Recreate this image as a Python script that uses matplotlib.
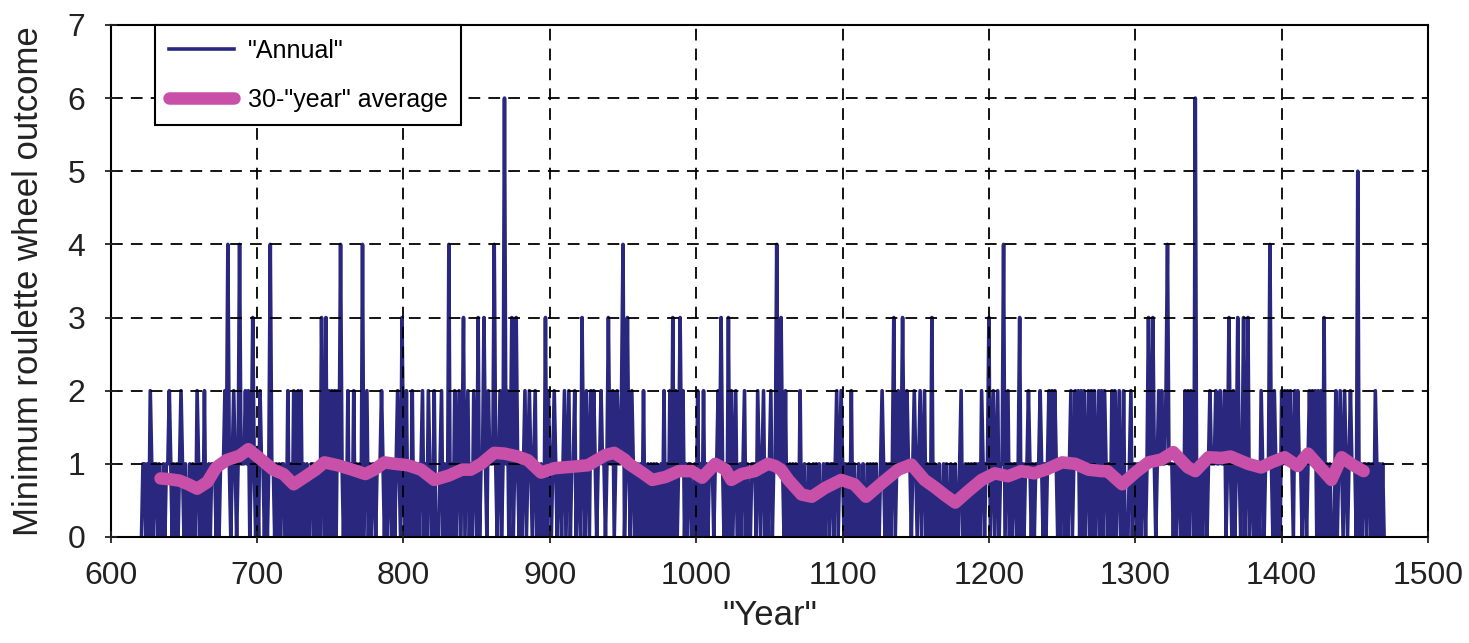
import numpy as np
import matplotlib.pyplot as plt

plt.rcParams['font.family'] = ['Liberation Sans', 'DejaVu Sans']

# annual values, one digit per year, decades separated by spaces; series starts in 621
start_year = 621
annual_600s = "011010210 1101001011 2101010121 0100101002 1010200101 1101011121 4101210141 1121201310"
annual_700s = ("1021101014 1101010110 0201020020 2010100110 1010310302 0202021410 1020102010 1040120101 "
               "1011121010 1101012103")
annual_800s = ("1020102010 1012010210 0200012010 0401020120 1301201021 0301131021 1141012016 1201301310 "
               "1012012101 2010100302")
annual_900s = ("1012101101 2012011201 1031021021 2101121101 3112012112 4013102101 1010200101 0101001020 "
               "1020302013 1201011001")
annual_1000s = ("0201020101 1101121310 1030201200 1012010011 1021012010 1201141131 0200101010 0200100100 "
                "1010100101 1011012012")
annual_1100s = ("1010102010 0100100101 0101001210 1010130121 1311211012 1012012010 0301001001 0100100100 "
                "1200101010 1101021011")
annual_1200s = ("3012012011 4012010110 1301011210 1011121010 1212121010 1101012012 1202020120 2020120202 "
                "1010202012 0020001201")
annual_1300s = ("1011011013 1131012121 1241110101 1010202021 0601010110 1211121121 1201310201 3101301301 "
                "1010102101 1141021010")
annual_1400s = ("2121212102 1211011012 1212020203 0101000201 2102101211 1050101101 1010210101 0")

# 30-"year" average
avg_years = [634, 640, 647, 653, 659, 666, 672, 679, 688, 694, 702, 711, 718, 725, 734, 740, 746, 755,
             765, 774, 780, 787, 794, 803, 812, 821, 831, 840, 846, 853, 862, 869, 878, 885, 894, 903,
             915, 926, 938, 944, 951, 954, 963, 970, 979, 988, 997, 1004, 1013, 1020, 1024, 1031, 1040,
             1049, 1054, 1058, 1063, 1072, 1079, 1088, 1099, 1108, 1116, 1127, 1138, 1147, 1156, 1163,
             1170, 1177, 1186, 1195, 1204, 1213, 1222, 1231, 1240, 1250, 1259, 1268, 1277, 1281, 1291,
             1300, 1309, 1318, 1326, 1336, 1341, 1350, 1359, 1365, 1377, 1386, 1393, 1402, 1411, 1418,
             1426, 1434, 1441, 1449, 1456]
avg_values = [0.80, 0.79, 0.77, 0.72, 0.66, 0.75, 0.95, 1.05, 1.11, 1.20, 1.07, 0.92, 0.86, 0.72, 0.84,
              0.92, 1.02, 0.98, 0.92, 0.86, 0.92, 1.02, 1.00, 0.98, 0.92, 0.78, 0.84, 0.92, 0.92, 1.00,
              1.15, 1.14, 1.10, 1.05, 0.88, 0.94, 0.96, 0.98, 1.12, 1.15, 1.06, 1.00, 0.88, 0.78, 0.82,
              0.90, 0.90, 0.81, 1.00, 0.92, 0.78, 0.86, 0.90, 1.00, 0.97, 0.92, 0.78, 0.58, 0.55, 0.67,
              0.78, 0.72, 0.55, 0.74, 0.92, 0.99, 0.78, 0.68, 0.57, 0.47, 0.63, 0.78, 0.87, 0.83, 0.90,
              0.87, 0.93, 1.02, 1.00, 0.92, 0.90, 0.90, 0.72, 0.88, 1.02, 1.06, 1.16, 0.95, 0.90, 1.09,
              1.08, 1.10, 1.00, 0.95, 1.02, 1.09, 0.97, 1.14, 0.96, 0.78, 1.09, 0.98, 0.90]

digits = "".join([annual_600s, annual_700s, annual_800s, annual_900s, annual_1000s,
                  annual_1100s, annual_1200s, annual_1300s, annual_1400s]).replace(" ", "")
annual = np.array([int(c) for c in digits])
years = np.arange(start_year, start_year + len(annual))

fig = plt.figure(figsize=(14.69, 6.43), dpi=100)
ax = fig.add_axes([0.0754, 0.1649, 0.8967, 0.7963])

ax.plot(years, annual, color='#29287E', lw=2.6, label='"Annual"', zorder=2)
ax.plot(avg_years, avg_values, color='#C850A8', lw=9, solid_capstyle='round',
        solid_joinstyle='round', label='30-"year" average', zorder=4)

ax.set_xlim(600, 1500)
ax.set_ylim(0, 7)
ax.set_xticks(range(600, 1501, 100))
ax.set_yticks(range(0, 8))
ax.set_axisbelow(False)
ax.grid(True, color='black', lw=1.3, linestyle=(0, (6.5, 4.5)))
ax.tick_params(direction='inout', length=9, width=1.3, labelsize=23, colors='#222222')
ax.tick_params(axis='x', pad=13)
ax.tick_params(axis='y', pad=14)
for s in ax.spines.values():
    s.set_linewidth(1.5)

ax.set_ylabel('Minimum roulette wheel outcome', fontsize=25, color='#222222')
ax.yaxis.set_label_coords(-0.05, 0.5)
ax.set_xlabel('"Year"', fontsize=25, color='#222222')
ax.xaxis.set_label_coords(0.5, -0.122)

leg = ax.legend(loc='upper left', bbox_to_anchor=(0.0336, 1.0), fontsize=18, frameon=True,
                fancybox=False, edgecolor='black', framealpha=1, handlelength=2.6,
                handletextpad=0.56, labelspacing=1.0, borderpad=0.55, borderaxespad=0)
leg.get_frame().set_linewidth(1.5)
leg.set_zorder(5)

fig.savefig('out.png', dpi=100)
